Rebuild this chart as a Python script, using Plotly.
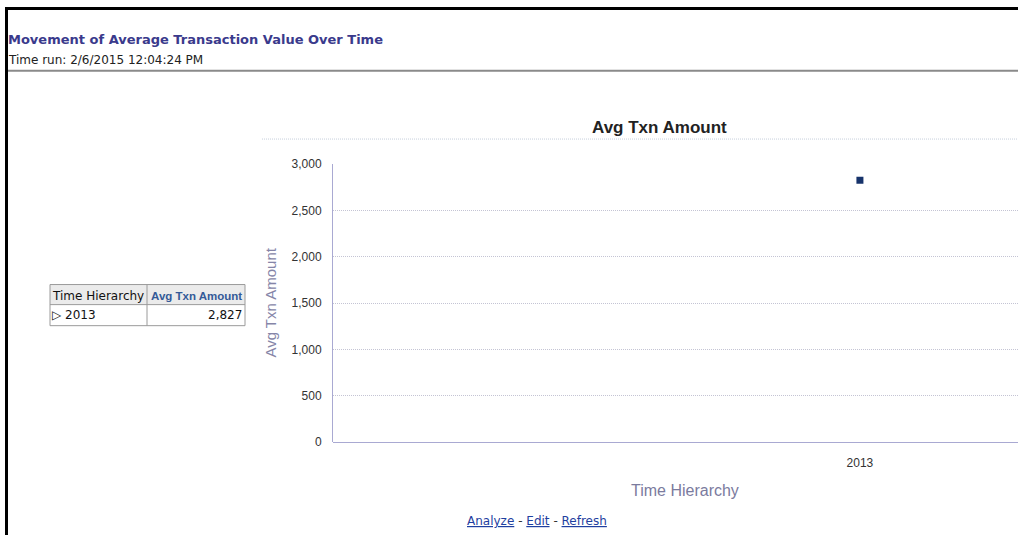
import plotly.graph_objects as go

# Report data
periods = ["2013"]
avg_txn_amount = [2827]
y_ticks = [0, 500, 1000, 1500, 2000, 2500, 3000]

W, H = 1018, 545
# the page adds a small top gap and fits the figure into the window height
Y_OFF = 7.4
Y_SCALE = 0.971


def px(x):
    return x / W


def py(y):
    return 1 - ((y - Y_OFF) / Y_SCALE) / H


narrow = "Liberation Sans Narrow, Arial Narrow, Liberation Sans, Arial"
sans = "Tahoma, DejaVu Sans, Verdana, sans-serif"
arial = "Liberation Sans, Arial, sans-serif"

fig = go.Figure()
fig.add_trace(go.Scatter(
    x=periods, y=avg_txn_amount, mode="markers",
    marker=dict(symbol="square", size=7, color="#17336b"),
    hoverinfo="x+y", showlegend=False,
))

fig.update_layout(
    width=W, height=H,
    margin=dict(l=0, r=0, t=0, b=0),
    paper_bgcolor="white", plot_bgcolor="white",
    xaxis=dict(
        domain=[px(333), 1], type="category", range=[-1, 0.3],
        showgrid=False, showline=False, zeroline=False,
        ticks="", ticklabelstandoff=12,
        tickfont=dict(family=narrow, size=12, color="#333333"),
        fixedrange=True,
    ),
    yaxis=dict(
        domain=[py(441), py(164)], range=[0, 3000],
        tickvals=y_ticks, tickformat=",d",
        showgrid=True, gridcolor="#c4c4d4", griddash="1px,1px", gridwidth=1,
        showline=True, linecolor="#a9a9d2", linewidth=1,
        zeroline=True, zerolinecolor="#a9a9d2", zerolinewidth=1,
        ticks="", ticklabelstandoff=8,
        tickfont=dict(family=narrow, size=12, color="#333333"),
        fixedrange=True,
    ),
)

shapes = [
    # outer frame (top and left edges)
    dict(type="line", x0=px(5), x1=1, y0=py(9), y1=py(9), line=dict(color="black", width=3)),
    dict(type="line", x0=px(6.5), x1=px(6.5), y0=py(8), y1=0, line=dict(color="black", width=3)),
    # header separator
    dict(type="line", x0=px(8), x1=1, y0=py(71), y1=py(71), line=dict(color="#8a8a8a", width=2)),
    # dotted rule under the chart title
    dict(type="line", x0=px(262), x1=1, y0=py(139), y1=py(139), line=dict(color="#c6cfdc", width=1, dash="1px,1px")),
    # pivot table
    dict(type="rect", x0=px(50), x1=px(245), y0=py(284), y1=py(304), fillcolor="#ebebeb", line=dict(width=0)),
    dict(type="rect", x0=px(50), x1=px(245), y0=py(284), y1=py(325), line=dict(color="#9a9a9a", width=1)),
    dict(type="line", x0=px(50), x1=px(245), y0=py(304), y1=py(304), line=dict(color="#9a9a9a", width=1)),
    dict(type="line", x0=px(147), x1=px(147), y0=py(284), y1=py(325), line=dict(color="#9a9a9a", width=1)),
]
for s in shapes:
    s.update(xref="paper", yref="paper", layer="above")
fig.update_layout(shapes=shapes)

annotations = [
    dict(x=px(6), y=py(40), text="<b>Movement of Average Transaction Value Over Time</b>",
         xanchor="left", yanchor="middle",
         font=dict(family=sans, size=13, color="#3a3a8c")),
    dict(x=px(6), y=py(60), text="Time run: 2/6/2015 12:04:24 PM",
         xanchor="left", yanchor="middle",
         font=dict(family=sans, size=12, color="#222222")),
    dict(x=px(659), y=py(127), text="<b>Avg Txn Amount</b>",
         xanchor="center", yanchor="middle",
         font=dict(family=narrow, size=17, color="#222222")),
    dict(x=px(271), y=py(302), text="Avg Txn Amount", textangle=-90,
         xanchor="center", yanchor="middle",
         font=dict(family=narrow, size=15, color="#8585a8")),
    dict(x=px(685), y=py(489), text="Time Hierarchy",
         xanchor="center", yanchor="middle",
         font=dict(family=narrow, size=16, color="#7b7b9e")),
    dict(x=px(50), y=py(295), text="Time Hierarchy",
         xanchor="left", yanchor="middle",
         font=dict(family=sans, size=12, color="#111111")),
    dict(x=px(244), y=py(295), text="<b>Avg Txn Amount</b>",
         xanchor="right", yanchor="middle",
         font=dict(family=arial, size=11.5, color="#345a98")),
    dict(x=px(50), y=py(314.5), text="\u25b7 " + periods[0],
         xanchor="left", yanchor="middle",
         font=dict(family=sans, size=12, color="#111111")),
    dict(x=px(244), y=py(314.5), text=f"{avg_txn_amount[0]:,}",
         xanchor="right", yanchor="middle",
         font=dict(family=sans, size=12, color="#111111")),
    dict(x=px(537), y=py(520),
         text="<u>Analyze</u> <span style='color:#333'>-</span> <u>Edit</u> <span style='color:#333'>-</span> <u>Refresh</u>",
         xanchor="center", yanchor="middle",
         font=dict(family=sans, size=12, color="#1f3fa0")),
]
for a in annotations:
    a.update(xref="paper", yref="paper", showarrow=False)
fig.update_layout(annotations=annotations)

fig.write_html("out.html", config=dict(displayModeBar=False))
